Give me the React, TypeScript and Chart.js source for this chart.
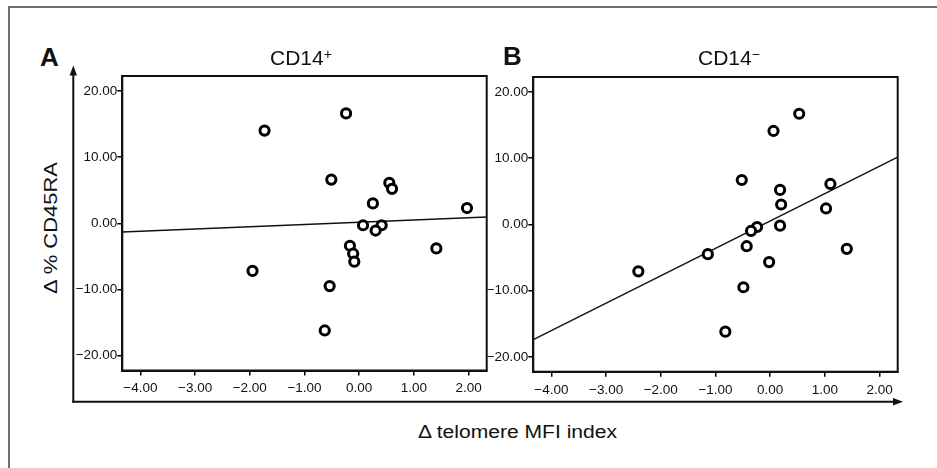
import React, { useEffect, useRef } from "react";
import { Chart, registerables } from "chart.js";

Chart.register(...registerables);

// Axis ranges and tick values
const X_MIN = -4.33;
const X_MAX = 2.33;
const Y_MIN = -22.25;
const Y_MAX = 22.25;
const xTickValues = [-4, -3, -2, -1, 0, 1, 2];
const yTickValues = [-20, -10, 0, 10, 20];

// Panel A: CD14+
const cd14PosX = [-1.73, -0.24, -0.51, 0.55, 0.6, 0.25, 1.97, 0.07, 0.41, 0.3, -0.17, -0.11, -0.09, 1.41, -1.95, -0.54, -0.63];
const cd14PosY = [14.0, 16.6, 6.6, 6.1, 5.2, 3.0, 2.3, -0.3, -0.3, -1.1, -3.4, -4.6, -5.8, -3.8, -7.2, -9.5, -16.2];
const cd14PosFitX = [-4.33, 2.33];
const cd14PosFitY = [-1.33, 0.94];

// Panel B: CD14-
const cd14NegX = [0.06, 0.53, -0.52, 0.18, 0.2, 1.1, 1.02, 0.18, -0.24, -0.35, -0.43, -1.14, -0.02, 1.4, -2.41, -0.49, -0.82];
const cd14NegY = [14.1, 16.7, 6.7, 5.2, 3.0, 6.1, 2.4, -0.2, -0.4, -1.0, -3.3, -4.5, -5.7, -3.7, -7.1, -9.5, -16.2];
const cd14NegFitX = [-4.33, 2.33];
const cd14NegFitY = [-17.4, 10.15];

const FONT = "'Liberation Sans', Arial, Helvetica, sans-serif";

const fmt = (v: number) => (v < 0 ? "\u2212" + Math.abs(v).toFixed(2) : v.toFixed(2));

const boxPlugin = {
  id: "boxFrame",
  afterDatasetsDraw(chart: any) {
    const { ctx, chartArea: a } = chart;
    ctx.save();
    ctx.strokeStyle = "#111";
    ctx.lineWidth = 2;
    ctx.strokeRect(a.left, a.top, a.right - a.left, a.bottom - a.top);
    ctx.restore();
  },
};

type PanelProps = {
  xs: number[];
  ys: number[];
  fitX: number[];
  fitY: number[];
  left: number;
  top: number;
  width: number;
  height: number;
  yAxisWidth: number;
  xAxisHeight: number;
  padTop: number;
  padRight: number;
};

function Panel(p: PanelProps) {
  const ref = useRef<HTMLCanvasElement | null>(null);
  useEffect(() => {
    if (!ref.current) return;
    const pts = p.xs.map((x, i) => ({ x, y: p.ys[i] }));
    const fit = p.fitX.map((x, i) => ({ x, y: p.fitY[i] }));
    const chart = new Chart(ref.current, {
      type: "scatter",
      data: {
        datasets: [
          {
            data: pts,
            pointStyle: "circle",
            pointRadius: 4.6,
            pointBorderWidth: 3,
            pointBorderColor: "#000",
            pointBackgroundColor: "#fff",
            showLine: false,
          },
          {
            data: fit,
            showLine: true,
            borderColor: "#111",
            borderWidth: 1.5,
            pointRadius: 0,
          },
        ],
      },
      options: {
        animation: false,
        responsive: false,
        events: [],
        layout: { padding: { top: p.padTop, right: p.padRight, left: 0, bottom: 0 } },
        plugins: { legend: { display: false }, tooltip: { enabled: false }, title: { display: false } },
        scales: {
          x: {
            type: "linear",
            min: X_MIN,
            max: X_MAX,
            afterBuildTicks: (s: any) => {
              s.ticks = xTickValues.map((v) => ({ value: v }));
            },
            afterFit: (s: any) => {
              s.height = p.xAxisHeight;
            },
            grid: { display: true, drawOnChartArea: false, drawTicks: true, tickLength: 5, color: "#000", lineWidth: 1.5 },
            border: { display: true, color: "#111", width: 2 },
            ticks: {
              color: "#111",
              padding: 5,
              maxRotation: 0,
              font: { family: FONT, size: 13.5 },
              callback: (v: any) => fmt(Number(v)),
            },
          },
          y: {
            type: "linear",
            min: Y_MIN,
            max: Y_MAX,
            afterBuildTicks: (s: any) => {
              s.ticks = yTickValues.map((v) => ({ value: v }));
            },
            afterFit: (s: any) => {
              s.width = p.yAxisWidth;
            },
            grid: { display: true, drawOnChartArea: false, drawTicks: true, tickLength: 5, color: "#000", lineWidth: 1.5 },
            border: { display: true, color: "#111", width: 2 },
            ticks: {
              color: "#111",
              padding: 0,
              font: { family: FONT, size: 13.5 },
              callback: (v: any) => fmt(Number(v)),
            },
          },
        },
      },
      plugins: [boxPlugin],
    } as any);
    return () => chart.destroy();
  }, []);
  return (
    <canvas
      ref={ref}
      width={p.width}
      height={p.height}
      style={{ position: "absolute", left: p.left, top: p.top, width: p.width, height: p.height }}
    />
  );
}

export default function App() {
  const txt: React.CSSProperties = {
    position: "absolute",
    fontFamily: FONT,
    color: "#111",
    lineHeight: 1,
    whiteSpace: "nowrap",
  };
  return (
    <div
      style={{
        position: "absolute",
        left: 0,
        top: 0,
        width: 937,
        height: 468,
        background: "#fff",
        overflow: "hidden",
      }}
    >
      <div
        style={{
          position: "absolute",
          left: 8,
          top: 6,
          width: 1200,
          height: 1200,
          borderTop: "2px solid #707070",
          borderLeft: "2px solid #707070",
        }}
      />
      <svg width={937} height={468} style={{ position: "absolute", left: 0, top: 0 }}>
        <line x1={73.3} y1={402.7} x2={73.3} y2={74} stroke="#111" strokeWidth={2} />
        <polygon points="73.3,65.5 69.6,75.5 77,75.5" fill="#111" />
        <line x1={72.3} y1={401.7} x2={894} y2={401.7} stroke="#111" strokeWidth={2} />
        <polygon points="903,401.7 893,397.9 893,405.5" fill="#111" />
      </svg>
      <Panel
        xs={cd14PosX}
        ys={cd14PosY}
        fitX={cd14PosFitX}
        fitY={cd14PosFitY}
        left={70}
        top={60}
        width={425}
        height={345}
        yAxisWidth={52.3}
        xAxisHeight={34.5}
        padTop={16}
        padRight={8.3}
      />
      <Panel
        xs={cd14NegX}
        ys={cd14NegY}
        fitX={cd14NegFitX}
        fitY={cd14NegFitY}
        left={484}
        top={60}
        width={425}
        height={345}
        yAxisWidth={49.3}
        xAxisHeight={33.3}
        padTop={17}
        padRight={11.3}
      />
      <div style={{ ...txt, left: 40, top: 43.6, fontSize: 26, fontWeight: "bold" }}>A</div>
      <div style={{ ...txt, left: 503, top: 43.2, fontSize: 26, fontWeight: "bold" }}>B</div>
      <div style={{ ...txt, left: 270, top: 47.3, fontSize: 21 }}>
        CD14<span style={{ fontSize: 14, position: "relative", top: -6 }}>+</span>
      </div>
      <div style={{ ...txt, left: 698, top: 47.3, fontSize: 21 }}>
        CD14<span style={{ fontSize: 14, position: "relative", top: -6 }}>{"\u2212"}</span>
      </div>
      <div
        style={{
          ...txt,
          left: 418,
          top: 422.7,
          fontSize: 18,
          transformOrigin: "left top",
          transform: "scaleX(1.17)",
        }}
      >
        {"\u0394 telomere MFI index"}
      </div>
      <div
        style={{
          ...txt,
          left: 51,
          top: 228,
          fontSize: 18,
          transform: "translate(-50%, -50%) rotate(-90deg) scaleX(1.22)",
        }}
      >
        {"\u0394 % CD45RA"}
      </div>
    </div>
  );
}
